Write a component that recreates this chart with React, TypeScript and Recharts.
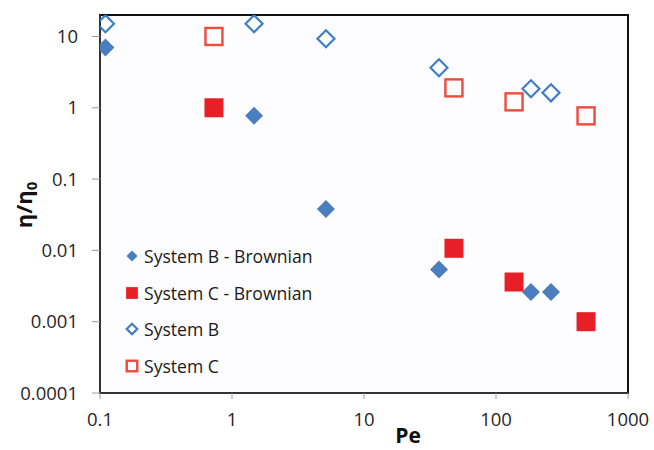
import { ScatterChart, Scatter, XAxis, YAxis, ReferenceArea, Legend } from "recharts"

// Pe (x) and eta/eta0 (y)
const sysBBrownPe = [0.11, 1.47, 5.15, 37, 184, 261]
const sysBBrownEta = [7.0, 0.77, 0.038, 0.0054, 0.0026, 0.0026]
const sysCBrownPe = [0.73, 48, 137, 481]
const sysCBrownEta = [1.0, 0.0107, 0.0036, 0.001]
const sysBPe = [0.11, 1.47, 5.15, 37, 184, 261]
const sysBEta = [15.1, 15.1, 9.3, 3.64, 1.85, 1.62]
const sysCPe = [0.73, 48, 137, 481]
const sysCEta = [10, 1.9, 1.21, 0.77]

const xTicks = [0.1, 1, 10, 100, 1000]
const yTicks = [0.0001, 0.001, 0.01, 0.1, 1, 10]
const seriesNames = ["System B - Brownian", "System C - Brownian", "System B", "System C"]

const BLUE = "#4a7ebf"
const RED = "#e81f27"
const BLUE_LINE = "#3d7fc6"
const RED_LINE = "#ef4a3a"
const FONT = "'Open Sans', sans-serif"

const toPoints = (xs: number[], ys: number[]) => xs.map((x, i) => ({ x, y: ys[i] }))

const diamondPath = (cx: number, cy: number, r: number) =>
  `M${cx},${cy - r}L${cx + r},${cy}L${cx},${cy + r}L${cx - r},${cy}Z`

type Kind = "fdiamond" | "fsquare" | "odiamond" | "osquare"
const kinds: Kind[] = ["fdiamond", "fsquare", "odiamond", "osquare"]

function Marker({ cx, cy, kind, scale = 1 }: { cx: number; cy: number; kind: Kind; scale?: number }) {
  if (kind === "fdiamond") return <path d={diamondPath(cx, cy, 9 * scale)} fill={BLUE} />
  if (kind === "fsquare") {
    const h = 9.5 * scale
    return <rect x={cx - h} y={cy - h} width={2 * h} height={2 * h} fill={RED} />
  }
  if (kind === "odiamond")
    return <path d={diamondPath(cx, cy, 8.5 * scale)} fill="none" stroke={BLUE_LINE} strokeWidth={2.2} />
  const h = 8.5 * scale
  return <rect x={cx - h} y={cy - h} width={2 * h} height={2 * h} fill="none" stroke={RED_LINE} strokeWidth={2.4} />
}

const shapeFor = (kind: Kind) => (props: any) => <Marker cx={props.cx} cy={props.cy} kind={kind} />

function LegendBox() {
  return (
    <div style={{ fontFamily: FONT, fontSize: 17.6, color: "#1a1a1a" }}>
      {seriesNames.map((name, i) => (
        <div key={name} style={{ display: "flex", alignItems: "center", height: 36.5 }}>
          <svg width={20} height={20} style={{ marginRight: 2 }}>
            <Marker cx={10} cy={10} kind={kinds[i]} scale={0.62} />
          </svg>
          <span>{name}</span>
        </div>
      ))}
    </div>
  )
}

export default function App() {
  return (
    <div style={{ position: "absolute", left: 0, top: 0, width: 654, height: 450, background: "#fff" }}>
      <ScatterChart width={654} height={450} margin={{ top: 15, right: 26, bottom: 17, left: 0 }}>
        <rect x={100} y={15} width={528} height={378} fill="#fdfdff" />
        <XAxis
          type="number"
          dataKey="x"
          scale="log"
          domain={[0.1, 1000]}
          ticks={xTicks}
          allowDataOverflow
          height={40}
          tickSize={6}
          tickMargin={14}
          tick={{ fontSize: 18.5, fill: "#262626", fontFamily: FONT }}
          tickFormatter={(v: number) => String(v)}
          stroke="#555"
          tickLine={{ stroke: "#9a9a9a" }}
        />
        <YAxis
          type="number"
          dataKey="y"
          scale="log"
          domain={[0.0001, 20]}
          ticks={yTicks}
          allowDataOverflow
          width={100}
          tickSize={8}
          tickMargin={14}
          tick={{ fontSize: 18.5, fill: "#262626", fontFamily: FONT }}
          tickFormatter={(v: number) => String(v)}
          stroke="#555"
          tickLine={{ stroke: "#9a9a9a" }}
        />
        <ReferenceArea x1={0.1} x2={1000} y1={0.0001} y2={20} fill="none" stroke="#111" strokeWidth={2} ifOverflow="visible" />
        <Scatter name={seriesNames[0]} data={toPoints(sysBBrownPe, sysBBrownEta)} shape={shapeFor("fdiamond")} isAnimationActive={false} />
        <Scatter name={seriesNames[1]} data={toPoints(sysCBrownPe, sysCBrownEta)} shape={shapeFor("fsquare")} isAnimationActive={false} />
        <Scatter name={seriesNames[2]} data={toPoints(sysBPe, sysBEta)} shape={shapeFor("odiamond")} isAnimationActive={false} />
        <Scatter name={seriesNames[3]} data={toPoints(sysCPe, sysCEta)} shape={shapeFor("osquare")} isAnimationActive={false} />
        <Legend
          layout="vertical"
          align="center"
          verticalAlign="middle"
          content={() => <LegendBox />}
          wrapperStyle={{ left: 122, top: 238, width: 220 }}
        />
        <text x={408} y={443} textAnchor="middle" fontFamily={FONT} fontWeight={700} fontSize={21} fill="#111">
          Pe
        </text>
        <text
          x={0}
          y={0}
          transform="translate(32,205) rotate(-90)"
          textAnchor="middle"
          fontFamily={FONT}
          fontWeight={700}
          fontSize={22}
          fill="#111"
        >
          η/η<tspan fontSize={15} dy={5}>0</tspan>
        </text>
      </ScatterChart>
    </div>
  )
}
